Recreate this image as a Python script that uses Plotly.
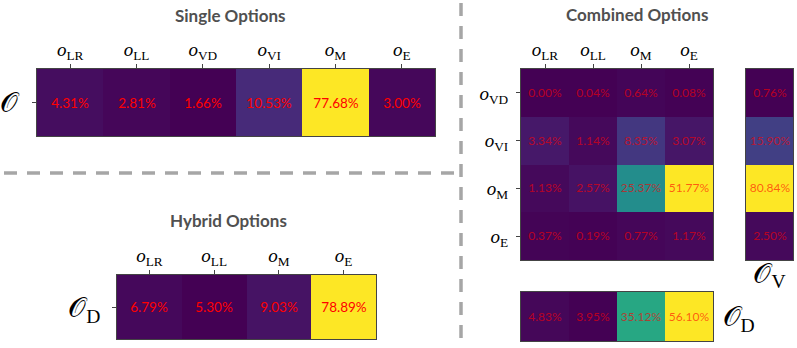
import plotly.graph_objects as go

# option labels
single_cols = ["LR", "LL", "VD", "VI", "M", "E"]
single_vals = [4.31, 2.81, 1.66, 10.53, 77.68, 3.00]

hybrid_cols = ["LR", "LL", "M", "E"]
hybrid_vals = [6.79, 5.30, 9.03, 78.89]

comb_cols = ["LR", "LL", "M", "E"]
comb_rows = ["VD", "VI", "M", "E"]
comb_vd = [0.00, 0.04, 0.64, 0.08]
comb_vi = [3.34, 1.14, 8.35, 3.07]
comb_m = [1.13, 2.57, 25.37, 51.77]
comb_e = [0.37, 0.19, 0.77, 1.17]
comb_v = [0.76, 15.90, 80.84, 2.50]   # row totals
comb_d = [4.83, 3.95, 35.12, 56.10]   # column totals

W, H = 797, 348


def lab(s):
    return f"<i>o</i><sub>{s}</sub>"


def px_x(a, b):
    return [a / W, b / W]


def px_y(top, bottom):
    return [1 - bottom / H, 1 - top / H]


CAL = "𝒪"
serif = "Liberation Serif, DejaVu Serif, serif"
num_font = "Lato, Open Sans, sans-serif"

fig = go.Figure()

# single options
fig.add_trace(go.Heatmap(
    z=[single_vals], x=[lab(c) for c in single_cols], y=[CAL],
    colorscale="Viridis", showscale=False, xaxis="x", yaxis="y",
    texttemplate="%{z:.2f}%", textfont=dict(family=num_font, size=13.5, color="red"),
    hoverinfo="skip"))

# hybrid options
fig.add_trace(go.Heatmap(
    z=[hybrid_vals], x=[lab(c) for c in hybrid_cols], y=[CAL + "<sub>D</sub>"],
    colorscale="Viridis", showscale=False, xaxis="x2", yaxis="y2",
    texttemplate="%{z:.2f}%", textfont=dict(family=num_font, size=13.5, color="red"),
    hoverinfo="skip"))

faded = dict(family=num_font, size=12, color="rgba(255,0,0,0.62)")

# combined matrix
fig.add_trace(go.Heatmap(
    z=[comb_vd, comb_vi, comb_m, comb_e], x=[lab(c) for c in comb_cols],
    y=[lab(r) for r in comb_rows],
    colorscale="Viridis", showscale=False, xaxis="x3", yaxis="y3",
    texttemplate="%{z:.2f}%", textfont=faded, hoverinfo="skip"))

# O_V column
fig.add_trace(go.Heatmap(
    z=[[v] for v in comb_v], x=[CAL + "<sub>V</sub>"], y=comb_rows,
    colorscale="Viridis", showscale=False, xaxis="x4", yaxis="y4",
    texttemplate="%{z:.2f}%", textfont=faded, hoverinfo="skip"))

# O_D row
fig.add_trace(go.Heatmap(
    z=[comb_d], x=comb_cols, y=[CAL + "<sub>D</sub>"],
    colorscale="Viridis", showscale=False, xaxis="x5", yaxis="y5",
    texttemplate="%{z:.2f}%", textfont=faded, hoverinfo="skip"))

frame = dict(showline=True, mirror=True, linecolor="#444", linewidth=1,
             showgrid=False, zeroline=False, fixedrange=True)
tickf = dict(family=serif, size=19, color="black")
bigf = dict(family=serif, size=28, color="black")

fig.update_layout(
    width=W, height=H, margin=dict(l=0, r=0, t=0, b=0),
    paper_bgcolor="white", plot_bgcolor="white",
    xaxis=dict(domain=px_x(37, 435), side="top", ticks="outside", ticklen=4,
               tickfont=tickf, anchor="y", **frame),
    yaxis=dict(domain=px_y(69, 136), ticks="outside", ticklen=4,
               tickfont=bigf, anchor="x", ticklabelstandoff=8, **frame),
    xaxis2=dict(domain=px_x(117, 376), side="top", ticks="outside", ticklen=4,
                tickfont=tickf, anchor="y2", **frame),
    yaxis2=dict(domain=px_y(275, 339), ticks="outside", ticklen=4,
                tickfont=bigf, anchor="x2", ticklabelstandoff=6, **frame),
    xaxis3=dict(domain=px_x(521, 713), side="top", ticks="outside", ticklen=4,
                tickfont=tickf, anchor="y3", **frame),
    yaxis3=dict(domain=px_y(69, 260), ticks="outside", ticklen=4,
                tickfont=tickf, anchor="x3", autorange="reversed",
                ticklabelstandoff=4, **frame),
    xaxis4=dict(domain=px_x(746, 793), side="bottom", ticks="",
                tickfont=bigf, anchor="y4", ticklabelstandoff=-12, **frame),
    yaxis4=dict(domain=px_y(69, 260), showticklabels=False, ticks="",
                anchor="x4", autorange="reversed", **frame),
    xaxis5=dict(domain=px_x(521, 713), showticklabels=False, ticks="",
                anchor="y5", **frame),
    yaxis5=dict(domain=px_y(292, 341), side="right", ticks="",
                tickfont=bigf, anchor="x5", ticklabelstandoff=3, **frame),
)

title_font = dict(family="Lato, Open Sans, sans-serif", size=17, color="#505050", weight="bold")
for text, cx, cy in [("Single Options", 230, 15), ("Hybrid Options", 228, 220),
                     ("Combined Options", 637, 14)]:
    fig.add_annotation(text=text, x=cx / W, y=1 - cy / H, xref="paper", yref="paper",
                       showarrow=False, font=title_font, xanchor="center", yanchor="middle")

dash = dict(color="#a6a6a6", width=3.5, dash="13px,10px")
fig.add_shape(type="line", xref="paper", yref="paper",
              x0=4 / W, x1=461 / W, y0=1 - 173 / H, y1=1 - 173 / H, line=dash)
fig.add_shape(type="line", xref="paper", yref="paper",
              x0=461 / W, x1=461 / W, y0=1 - 3 / H, y1=0, line=dash)

# drop the page's default body margin so the figure sits at the window corner
fig.write_html("out.html", config={"displayModeBar": False},
               post_script="document.body.style.margin='0';")
